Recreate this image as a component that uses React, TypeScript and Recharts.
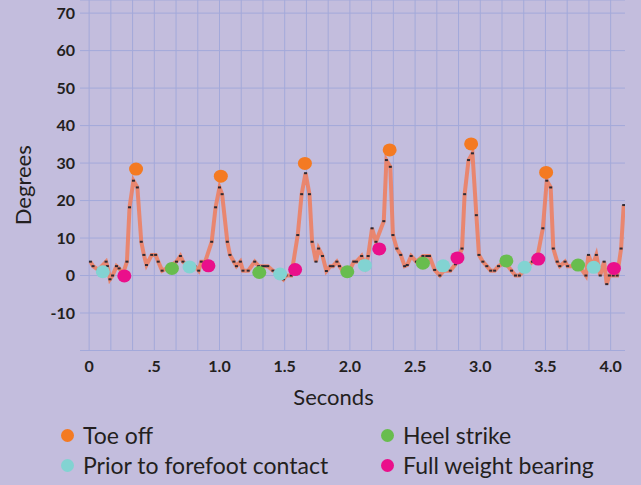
import { ComposedChart, Line, Scatter, XAxis, YAxis, CartesianGrid, ReferenceLine } from 'recharts'

// gait recording: knee angle in degrees, sampled over ~4 s
const sampleSeconds = [
  0.01, 0.03, 0.07, 0.13, 0.14, 0.16, 0.18, 0.21, 0.23, 0.26, 0.29, 0.31, 0.34, 0.37, 0.4, 0.42, 0.44, 0.48,
  0.51, 0.53, 0.56, 0.6, 0.67, 0.7, 0.72, 0.76, 0.81, 0.84, 0.86, 0.89, 0.94, 0.97, 1.0, 1.02, 1.06, 1.08,
  1.11, 1.13, 1.16, 1.18, 1.22, 1.27, 1.3, 1.33, 1.35, 1.37, 1.41, 1.45, 1.49, 1.51, 1.55, 1.6, 1.63, 1.66,
  1.69, 1.71, 1.74, 1.76, 1.79, 1.82, 1.85, 1.87, 1.9, 1.92, 1.96, 2.0, 2.03, 2.05, 2.09, 2.12, 2.14, 2.17,
  2.2, 2.26, 2.28, 2.31, 2.33, 2.36, 2.39, 2.42, 2.44, 2.47, 2.51, 2.56, 2.59, 2.61, 2.65, 2.69, 2.72, 2.77,
  2.81, 2.86, 2.88, 2.91, 2.94, 2.97, 2.99, 3.02, 3.05, 3.08, 3.11, 3.14, 3.19, 3.24, 3.27, 3.3, 3.35, 3.4,
  3.43, 3.48, 3.51, 3.54, 3.56, 3.59, 3.61, 3.65, 3.67, 3.72, 3.76, 3.81, 3.83, 3.86, 3.89, 3.92, 3.95, 3.97,
  3.99, 4.02, 4.05, 4.08, 4.1,
]
const sampleDegrees = [
  3.7, 2.5, 1.5, 3.7, 2.5, -1, 0, 2.5, 1.9, 0.5, 3.7, 18.2, 25.3, 23.5, 9, 5.5, 2.8, 5.5,
  5.5, 3.7, 1.3, 2, 3.7, 5.2, 3.7, 2.5, 2.5, 1.3, 3.7, 3.7, 9, 18.2, 23.5, 21.7, 9, 5.5,
  3.7, 2.5, 3.7, 1.3, 1.3, 3.7, 2.5, 2.5, 2.5, 2.5, 1.3, 0.5, -1, 0, 0, 10.8, 21.7, 27.3,
  21.7, 9, 3.7, 7.2, 5.2, 1.2, 2.5, 2.5, 3.7, 2.5, 0.5, 1.5, 3.7, 3.7, 5.2, 2.5, 5.2, 12.6,
  9, 14.5, 30.8, 29, 10.8, 7.2, 5.5, 2.5, 2.8, 5.2, 3.7, 5.2, 5.2, 5.2, 1.5, 0, 1.3, 1.3,
  3, 7.2, 21.7, 30.8, 32.6, 16.1, 5.5, 3.7, 2.5, 1.3, 1.3, 2.5, 3.5, 1.3, 0, 0, 2, 3.7,
  3.5, 12.6, 25.3, 23.5, 7.2, 3.7, 2.5, 3.7, 2.5, 2.5, 2.5, 0, 5.5, 2.5, 5.5, 0, 3.7, -2.3,
  0, 0, 0, 7.2, 18.8,
]

const toeOffSeconds = [0.36, 1.01, 1.655, 2.305, 2.93, 3.505]
const toeOffDegrees = [28.4, 26.5, 29.9, 33.5, 35.1, 27.5]
const heelStrikeSeconds = [0.635, 1.305, 1.98, 2.56, 3.2, 3.75]
const heelStrikeDegrees = [1.9, 0.8, 1.0, 3.3, 3.9, 2.8]
const priorSeconds = [0.105, 0.77, 1.465, 2.115, 2.715, 3.34, 3.87]
const priorDegrees = [1.0, 2.3, 0.4, 2.7, 2.6, 2.2, 2.2]
const fullWeightSeconds = [0.27, 0.915, 1.58, 2.225, 2.825, 3.445, 4.025]
const fullWeightDegrees = [-0.1, 2.6, 1.6, 7.1, 4.7, 4.4, 1.9]

const xTicks = [0, 0.5, 1, 1.5, 2, 2.5, 3, 3.5, 4]
const yTicks = [-10, 0, 10, 20, 30, 40, 50, 60, 70]
const gridSeconds = Array.from({ length: 25 }, (_, i) => i / 6)

const FONT = 'Lato, "Open Sans", sans-serif'
const INK = '#231f20'
const BG = '#c3bddd'
const GRID = '#a3a9da'

const zip = (ts: number[], vs: number[]) => ts.map((t, i) => ({ t, v: vs[i] }))

const samples = zip(sampleSeconds, sampleDegrees)

const events = [
  { name: 'Toe off', color: '#f47a22', data: zip(toeOffSeconds, toeOffDegrees) },
  { name: 'Heel strike', color: '#68bd4e', data: zip(heelStrikeSeconds, heelStrikeDegrees) },
  { name: 'Prior to forefoot contact', color: '#82d3d2', data: zip(priorSeconds, priorDegrees) },
  { name: 'Full weight bearing', color: '#ea0f8b', data: zip(fullWeightSeconds, fullWeightDegrees) },
]

const fmtSeconds = (v: number) => (v === 0 ? '0' : v === 0.5 ? '.5' : v.toFixed(1))

const SampleMark = (p: any) => {
  if (p.cx == null) return <g key={p.index} />
  return <rect key={p.index} x={p.cx - 1.5} y={p.cy - 1} width={3} height={2} fill="#2e2a33" />
}

const eventShape = (color: string) => (p: any) => (
  <ellipse cx={p.cx} cy={p.cy} rx={7} ry={6.5} fill={color} />
)

const DegreesLabel = ({ viewBox }: any) => {
  const cx = viewBox.x + 22
  const cy = viewBox.y + viewBox.height / 2 + 10
  return (
    <text x={cx} y={cy} transform={`rotate(-90 ${cx} ${cy})`} textAnchor="middle" dominantBaseline="central"
      fill={INK} fontSize={22} fontFamily={FONT}>
      Degrees
    </text>
  )
}

export default function App() {
  return (
    <div style={{ position: 'fixed', left: 0, top: 0, width: 641, height: 485, background: BG, overflow: 'hidden' }}>
      <ComposedChart width={641} height={485} margin={{ top: 0, right: 16, bottom: 74.5, left: 0 }}>
        <CartesianGrid vertical={false} stroke={GRID} strokeWidth={1} />
        {gridSeconds.map((t) => (
          <ReferenceLine key={t} x={t} stroke={GRID} strokeWidth={1} />
        ))}
        <XAxis
          type="number"
          dataKey="t"
          domain={[-0.07, 4.11]}
          ticks={xTicks}
          tickFormatter={fmtSeconds}
          allowDataOverflow
          height={60}
          tickLine={false}
          tickSize={0}
          tickMargin={10}
          axisLine={{ stroke: GRID }}
          tick={{ fill: INK, fontSize: 16, fontWeight: 700, fontFamily: FONT }}
          label={{ value: 'Seconds', position: 'insideBottom', offset: 6, dx: -19, fill: INK, fontSize: 22, fontFamily: FONT }}
        />
        <YAxis
          type="number"
          dataKey="v"
          domain={[-20, 73.5]}
          ticks={yTicks}
          allowDataOverflow
          width={80}
          tickLine={false}
          axisLine={false}
          tickSize={0}
          tickMargin={5}
          tick={{ fill: INK, fontSize: 16, fontWeight: 700, fontFamily: FONT }}
          label={<DegreesLabel />}
        />
        <Line
          data={samples}
          dataKey="v"
          type="linear"
          stroke="#f07d5c"
          strokeWidth={4}
          strokeOpacity={0.85}
          dot={SampleMark}
          activeDot={false}
          isAnimationActive={false}
        />
        {events.map((e) => (
          <Scatter key={e.name} name={e.name} data={e.data} dataKey="v" fill={e.color}
            shape={eventShape(e.color)} isAnimationActive={false} />
        ))}
      </ComposedChart>
      <div
        style={{
          position: 'absolute', left: 61, top: 423, display: 'grid',
          gridTemplateColumns: '320px 260px', rowGap: 6, fontFamily: FONT, fontSize: 23, color: INK,
        }}
      >
        {events.map((e) => (
          <div key={e.name} style={{ display: 'flex', alignItems: 'center', height: 24 }}>
            <span style={{ width: 13, height: 13, borderRadius: '50%', background: e.color, marginRight: 9 }} />
            <span>{e.name}</span>
          </div>
        ))}
      </div>
    </div>
  )
}
